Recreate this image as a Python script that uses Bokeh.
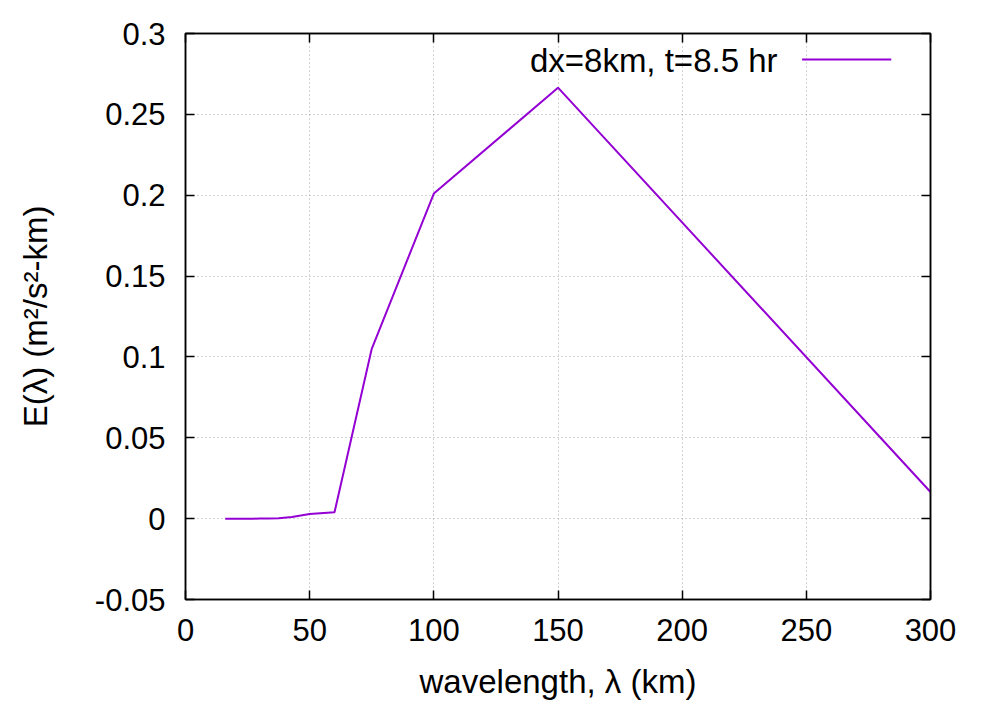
from bokeh.plotting import figure
from bokeh.models import Range1d, FixedTicker, LinearAxis, Label, Arrow
from bokeh.embed import file_html
from bokeh.resources import INLINE

# ---- data ----
wavelength = [16.0, 17.65, 18.75, 20.0, 21.43, 23.08, 25.0, 27.27, 30.0, 33.33,
              37.5, 42.86, 50.0, 60.0, 75.0, 100.0, 150.0, 300.0]
energy = [0.0, 0.0, 0.0, 0.0, 0.0, 0.0, 0.0, 0.0, 0.00005, 0.0001,
          0.0003, 0.001, 0.0029, 0.0039, 0.105, 0.201, 0.2665, 0.0165]
series_label = "dx=8km, t=8.5 hr"
x_ticks = [0, 50, 100, 150, 200, 250, 300]
x_tick_labels = ["0", "50", "100", "150", "200", "250", "300"]
y_ticks = [-0.05, 0.0, 0.05, 0.1, 0.15, 0.2, 0.25, 0.3]
y_tick_labels = ["-0.05", "0", "0.05", "0.1", "0.15", "0.2", "0.25", "0.3"]
x_label = "wavelength, λ (km)"
y_label = "E(λ) (m²/s²-km)"

FONT = "Liberation Sans"
FS = "31px"
FS_LAB = "33px"
PURPLE = "#9400d3"

p = figure(width=1008, height=706, output_backend="svg", toolbar_location=None,
           x_range=Range1d(0, 300), y_range=Range1d(-0.05, 0.3),
           min_border_left=185, min_border_right=78, min_border_top=33, min_border_bottom=107,
           x_axis_label=x_label, y_axis_label=y_label)
p.background_fill_color = "white"
p.border_fill_color = "white"
p.outline_line_color = "black"
p.outline_line_width = 1.5

p.line(wavelength, energy, line_color=PURPLE, line_width=2)

# axes
for ax, ticks, labels in ((p.xaxis[0], x_ticks, x_tick_labels), (p.yaxis[0], y_ticks, y_tick_labels)):
    ax.ticker = FixedTicker(ticks=ticks)
    ax.major_label_overrides = {t: l for t, l in zip(ticks, labels)}
    ax.major_tick_in = 9
    ax.major_tick_out = 0
    ax.minor_tick_in = 0
    ax.minor_tick_out = 0
    ax.major_tick_line_color = "black"
    ax.major_tick_line_width = 1.5
    ax.axis_line_color = "black"
    ax.axis_line_width = 1.5
    ax.major_label_text_font = FONT
    ax.major_label_text_font_size = FS
    ax.major_label_text_color = "black"
    ax.axis_label_text_font = FONT
    ax.axis_label_text_font_size = FS_LAB
    ax.axis_label_text_font_style = "normal"
    ax.axis_label_text_color = "black"

p.xaxis[0].major_label_standoff = 19
p.xaxis[0].axis_label_standoff = 19
p.yaxis[0].major_label_standoff = 20
p.yaxis[0].axis_label_standoff = 38

# mirrored tick axes (ticks only, no labels)
for loc, ticks in (("above", x_ticks), ("right", y_ticks)):
    ax = LinearAxis(ticker=FixedTicker(ticks=ticks), major_tick_in=9, major_tick_out=0,
                    minor_tick_in=0, minor_tick_out=0,
                    major_label_overrides={t: "" for t in ticks},
                    major_label_standoff=0, major_tick_line_color="black",
                    major_tick_line_width=1.5, axis_line_color="black", axis_line_width=1.5)
    p.add_layout(ax, loc)

# grid
for g, ticks in ((p.xgrid[0], x_ticks), (p.ygrid[0], y_ticks)):
    g.ticker = FixedTicker(ticks=ticks)
    g.grid_line_color = "#a8a8a8"
    g.grid_line_dash = "1 3"
    g.grid_line_width = 1

# legend (gnuplot style: text then line sample)
p.add_layout(Label(x=238.4, y=0.2835, text=series_label, text_font=FONT, text_font_size=FS_LAB,
                   text_align="right", text_baseline="middle", text_color="black"))
p.add_layout(Arrow(x_start=248.3, y_start=0.2839, x_end=284.2, y_end=0.2839, end=None,
                   line_color=PURPLE, line_width=2))

open("out.html", "w").write(file_html(p, INLINE))
